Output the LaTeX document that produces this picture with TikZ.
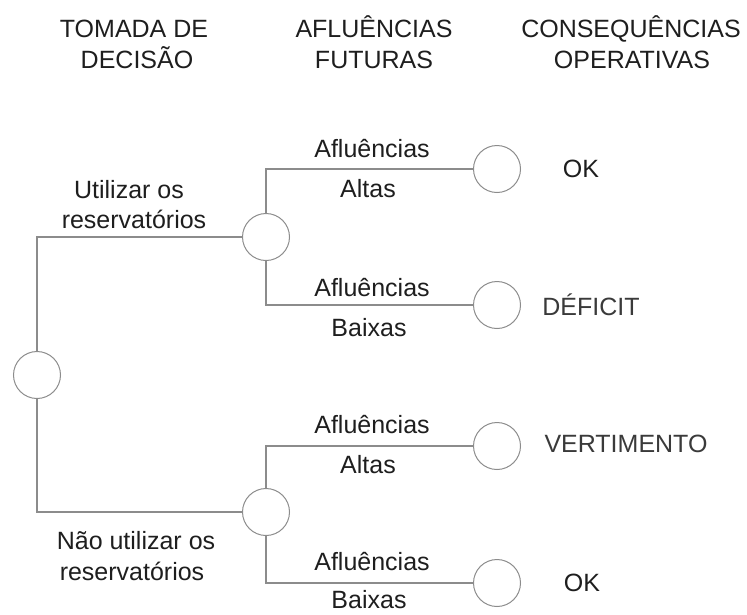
\documentclass[tikz,border=0pt]{standalone}
\usepackage{fontspec}
\setmainfont{Liberation Sans}
\definecolor{linegray}{HTML}{8C8C8C}
\definecolor{txt}{HTML}{1E1E1E}
\definecolor{txtg}{HTML}{3A3A3A}
\begin{document}
\begin{tikzpicture}[x=1pt,y=-1pt,
  chance/.style={circle,draw=linegray,line width=1pt,minimum size=47pt,inner sep=0pt},
  conn/.style={draw=linegray,line width=1.1pt},
  lbl/.style={anchor=base,inner sep=0pt,text=txt,font=\fontsize{25}{30}\selectfont},
  lblg/.style={lbl,text=txtg}]
\useasboundingbox (0,0) rectangle (747,614);
% headers
\node[lbl] (h1a) at (134,37) {TOMADA DE};
\node[lbl] (h1b) at (137,68) {DECISÃO};
\node[lbl] (h2a) at (374,37) {AFLUÊNCIAS};
\node[lbl] (h2b) at (374,68) {FUTURAS};
\node[lbl] (h3a) at (631,37) {CONSEQUÊNCIAS};
\node[lbl] (h3b) at (632,68) {OPERATIVAS};
% nodes
\node[chance] (root) at (37,375) {};
\node[chance] (up) at (266,237) {};
\node[chance] (low) at (266,512) {};
\node[chance] (e1) at (497,169) {};
\node[chance] (e2) at (497,305) {};
\node[chance] (e3) at (497,446) {};
\node[chance] (e4) at (497,583) {};
% connectors
\draw[conn] (root.north) |- (up.west);
\draw[conn] (root.south) |- (low.west);
\draw[conn] (up.north) |- (e1.west);
\draw[conn] (up.south) |- (e2.west);
\draw[conn] (low.north) |- (e3.west);
\draw[conn] (low.south) |- (e4.west);
% decision labels
\node[lbl] (d1a) at (129,198) {Utilizar os};
\node[lbl] (d1b) at (134,228) {reservatórios};
\node[lbl] (d2a) at (136,549) {Não utilizar os};
\node[lbl] (d2b) at (132,580) {reservatórios};
% branch labels
\node[lbl] (b1a) at (372,157) {Afluências};
\node[lbl] (b1b) at (368,197) {Altas};
\node[lbl] (b2a) at (372,296) {Afluências};
\node[lbl] (b2b) at (369,336) {Baixas};
\node[lbl] (b3a) at (372,433) {Afluências};
\node[lbl] (b3b) at (368,473) {Altas};
\node[lbl] (b4a) at (372,570) {Afluências};
\node[lbl] (b4b) at (369,608) {Baixas};
% outcomes
\node[lbl] (o1) at (581,177) {OK};
\node[lblg] (o2) at (591,315) {DÉFICIT};
\node[lblg] (o3) at (626,452) {VERTIMENTO};
\node[lbl] (o4) at (582,591) {OK};
\end{tikzpicture}
\end{document}
